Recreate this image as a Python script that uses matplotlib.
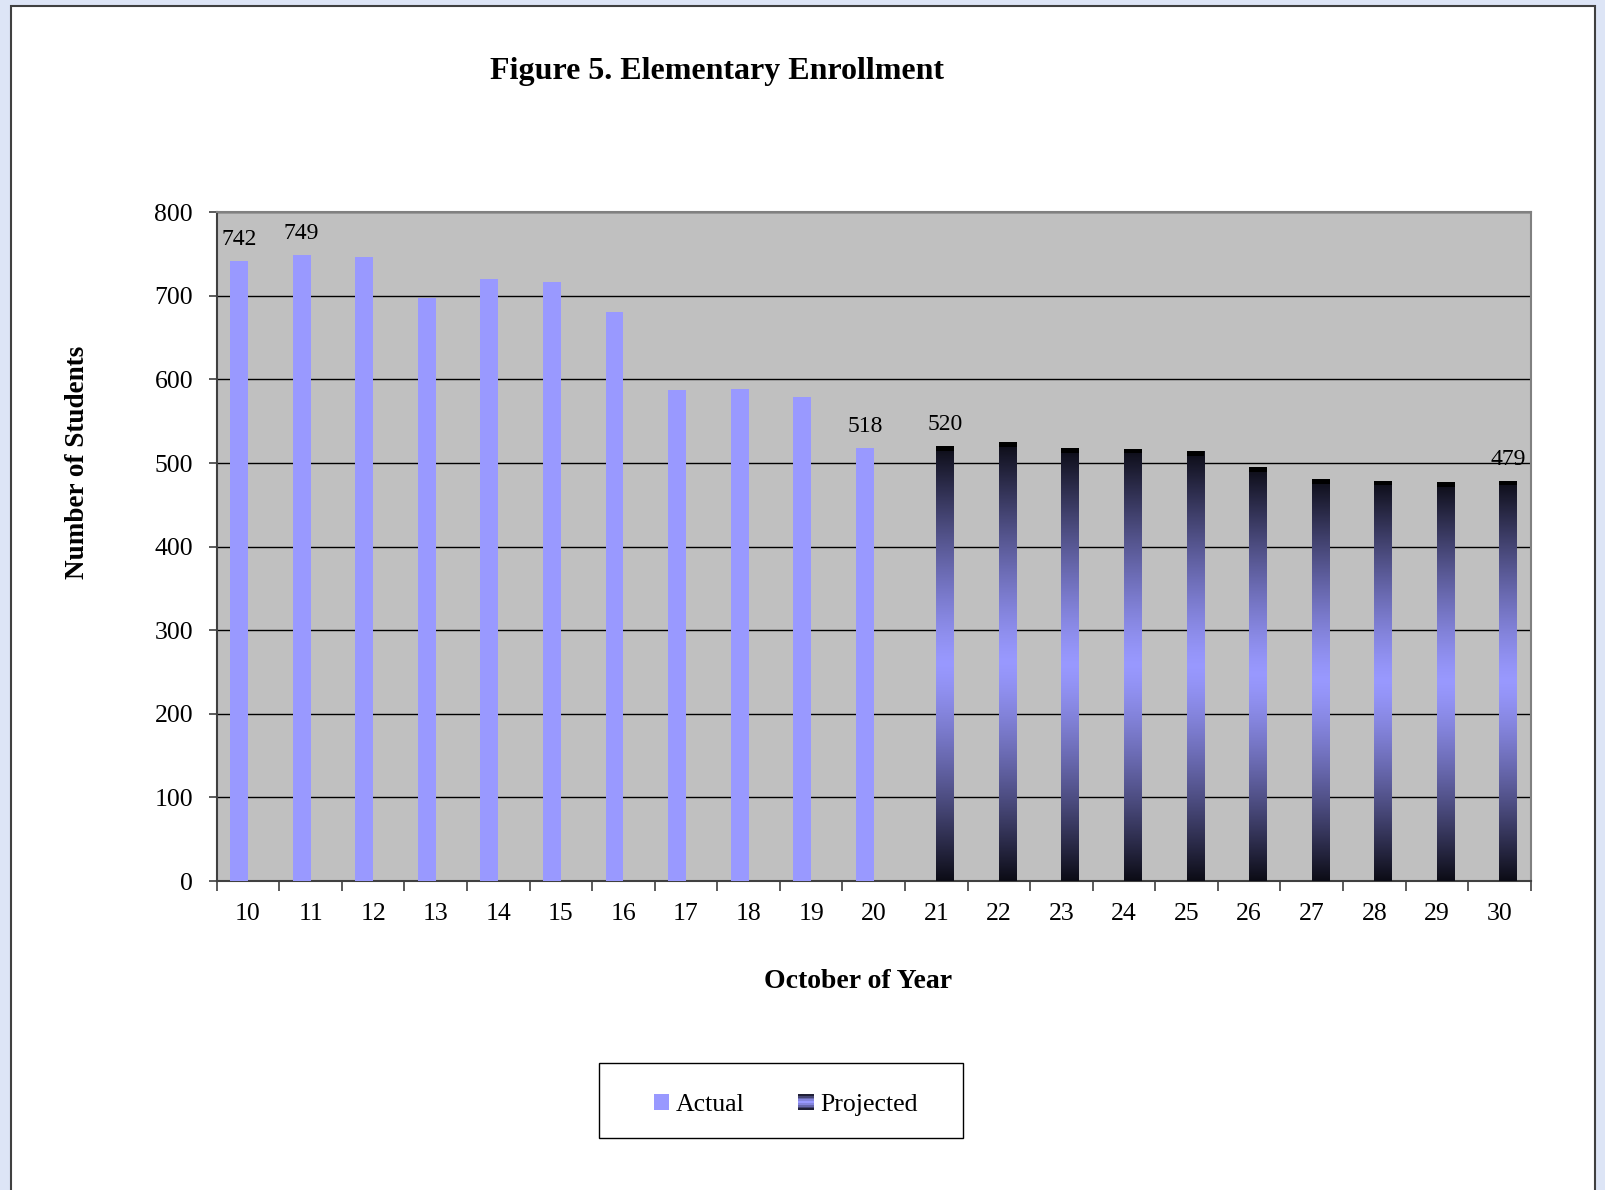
import numpy as np
import matplotlib
matplotlib.use("Agg")
import matplotlib.pyplot as plt
from matplotlib.colors import LinearSegmentedColormap, to_rgb
from matplotlib.patches import Rectangle
from matplotlib.legend_handler import HandlerBase
from matplotlib.ticker import FixedLocator

# ---------------- data ----------------
years = ["10", "11", "12", "13", "14", "15", "16", "17", "18", "19", "20",
         "21", "22", "23", "24", "25", "26", "27", "28", "29", "30"]
actual_years = ["10", "11", "12", "13", "14", "15", "16", "17", "18", "19", "20"]
actual = [742, 749, 747, 698, 720, 717, 681, 587, 589, 579, 518]
projected_years = ["21", "22", "23", "24", "25", "26", "27", "28", "29", "30"]
projected = [520, 525, 518, 517, 514, 495, 481, 479, 477, 479]
actual_labeled = ["10", "11", "20"]
projected_labeled = ["21", "30"]
y_ticks = [0, 100, 200, 300, 400, 500, 600, 700, 800]

title = "Figure 5. Elementary Enrollment"
xlabel = "October of Year"
ylabel = "Number of Students"

# ---------------- style ----------------
plt.rcParams['font.family'] = ['Liberation Serif', 'DejaVu Serif']
W, H = 1606, 1190
BAR_W = 1 / 3.5          # Excel gap width 150 %, two series
ACTUAL_C = "#9999ff"
DARK = "#0c0c16"

# dark-light-dark gradient, slightly widened light centre
_s = np.linspace(0, 1, 33)
_f = 1 - np.abs(2 * _s - 1) ** 1.3
_d, _l = np.array(to_rgb(DARK)), np.array(to_rgb(ACTUAL_C))
grad_cmap = LinearSegmentedColormap.from_list(
    "proj", list(zip(_s, [tuple(_d + (_l - _d) * f) for f in _f])))

fig = plt.figure(figsize=(W / 100, H / 100), dpi=100)
fig.patch.set_facecolor("#dde5f6")

# white page panel
fig.add_artist(Rectangle((11 / W, -0.01), 1584 / W, 1.01 - 6 / H,
                         transform=fig.transFigure, facecolor="white",
                         edgecolor="#404040", lw=1.5, zorder=-1))

ax = fig.add_axes([216.7 / W, 1 - 881 / H, (1530.7 - 216.7) / W, (881 - 212.3) / H])
ax.set_facecolor("#c0c0c0")
ax.set_axisbelow(True)

idx = {y: i for i, y in enumerate(years)}
xa = np.array([idx[y] for y in actual_years], dtype=float) - BAR_W / 2
xp = np.array([idx[y] for y in projected_years], dtype=float) + BAR_W / 2

ax.bar(xa, actual, width=BAR_W, color=ACTUAL_C, zorder=3)

pbars = ax.bar(xp, projected, width=BAR_W, color="none", zorder=3)
grad = np.linspace(0, 1, 256).reshape(-1, 1)
for b in pbars:
    x0, w, h = b.get_x(), b.get_width(), b.get_height()
    im = ax.imshow(grad, extent=[x0, x0 + w, 0, h], aspect="auto",
                   cmap=grad_cmap, interpolation="bilinear", zorder=3)
    im.set_clip_path(b)
CAP = 5.5
ax.bar(xp, [CAP] * len(projected), bottom=np.array(projected) - CAP,
       width=BAR_W, color="black", zorder=4)

# data labels
for y, v in zip(actual_years, actual):
    if y in actual_labeled:
        ax.annotate(str(v), (idx[y] - BAR_W / 2, v), xytext=(0, 15.5),
                    textcoords="offset points", ha="center", va="center",
                    fontsize=17, zorder=5)
for y, v in zip(projected_years, projected):
    if y in projected_labeled:
        ax.annotate(str(v), (idx[y] + BAR_W / 2, v), xytext=(0, 15.5),
                    textcoords="offset points", ha="center", va="center",
                    fontsize=17, zorder=5)

# axes
ax.set_xlim(-0.5, len(years) - 0.5)
ax.set_ylim(y_ticks[0], y_ticks[-1])
ax.set_yticks(y_ticks)
ax.tick_params(axis="y", direction="out", length=6, width=1.2, color="#404040",
               labelsize=18.5, pad=11)
ax.xaxis.set_major_locator(FixedLocator(np.arange(-0.5, len(years), 1.0)))
ax.xaxis.set_minor_locator(FixedLocator(np.arange(len(years))))
ax.xaxis.set_major_formatter(plt.NullFormatter())
ax.xaxis.set_minor_formatter(plt.FixedFormatter(years))
ax.tick_params(axis="x", which="major", direction="out", length=7, width=1.2,
               color="#404040")
ax.tick_params(axis="x", which="minor", length=0, labelsize=18.5, pad=16)
ax.yaxis.grid(True, color="black", lw=1.0)
for s in ["top", "right"]:
    ax.spines[s].set_color("#808080")
    ax.spines[s].set_linewidth(1.5)
for s in ["left", "bottom"]:
    ax.spines[s].set_color("#404040")
    ax.spines[s].set_linewidth(1.5)

# texts
fig.text(717 / W, 1 - 72 / H, title, ha="center", va="center",
         fontsize=23, fontweight="bold")
fig.text(858 / W, 1 - 982 / H, xlabel, ha="center", va="center",
         fontsize=20, fontweight="bold")
fig.text(78 / W, 1 - 462 / H, ylabel, ha="center", va="center",
         fontsize=19.5, fontweight="bold", rotation=90)


# legend
class GradientHandler(HandlerBase):
    def create_artists(self, legend, orig_handle, xdescent, ydescent,
                       width, height, fontsize, trans):
        n = 9
        arts = []
        for i in range(n):
            c = grad_cmap((i + 0.5) / n)
            arts.append(Rectangle((-xdescent, -ydescent + i * height / n),
                                  width, height / n, facecolor=c,
                                  edgecolor="none", transform=trans))
        return arts


h_act = Rectangle((0, 0), 1, 1, facecolor=ACTUAL_C, edgecolor="none")
h_proj = Rectangle((0, 0), 1, 1, facecolor=ACTUAL_C, edgecolor="none")
fig.legend([h_act, h_proj], ["Actual", "Projected"], loc="center",
           bbox_to_anchor=(785.5 / W, 1 - 1105 / H), ncol=2, frameon=False,
           fontsize=18.5, handlelength=0.6, handleheight=0.6,
           handletextpad=0.25, columnspacing=2.1,
           handler_map={h_proj: GradientHandler()})
fig.add_artist(Rectangle((599 / W, 1 - 1138 / H), (963 - 599) / W, 75 / H,
                         transform=fig.transFigure, facecolor="none",
                         edgecolor="black", lw=1.0, zorder=1))

fig.savefig("out.png", dpi=100, facecolor=fig.get_facecolor())
